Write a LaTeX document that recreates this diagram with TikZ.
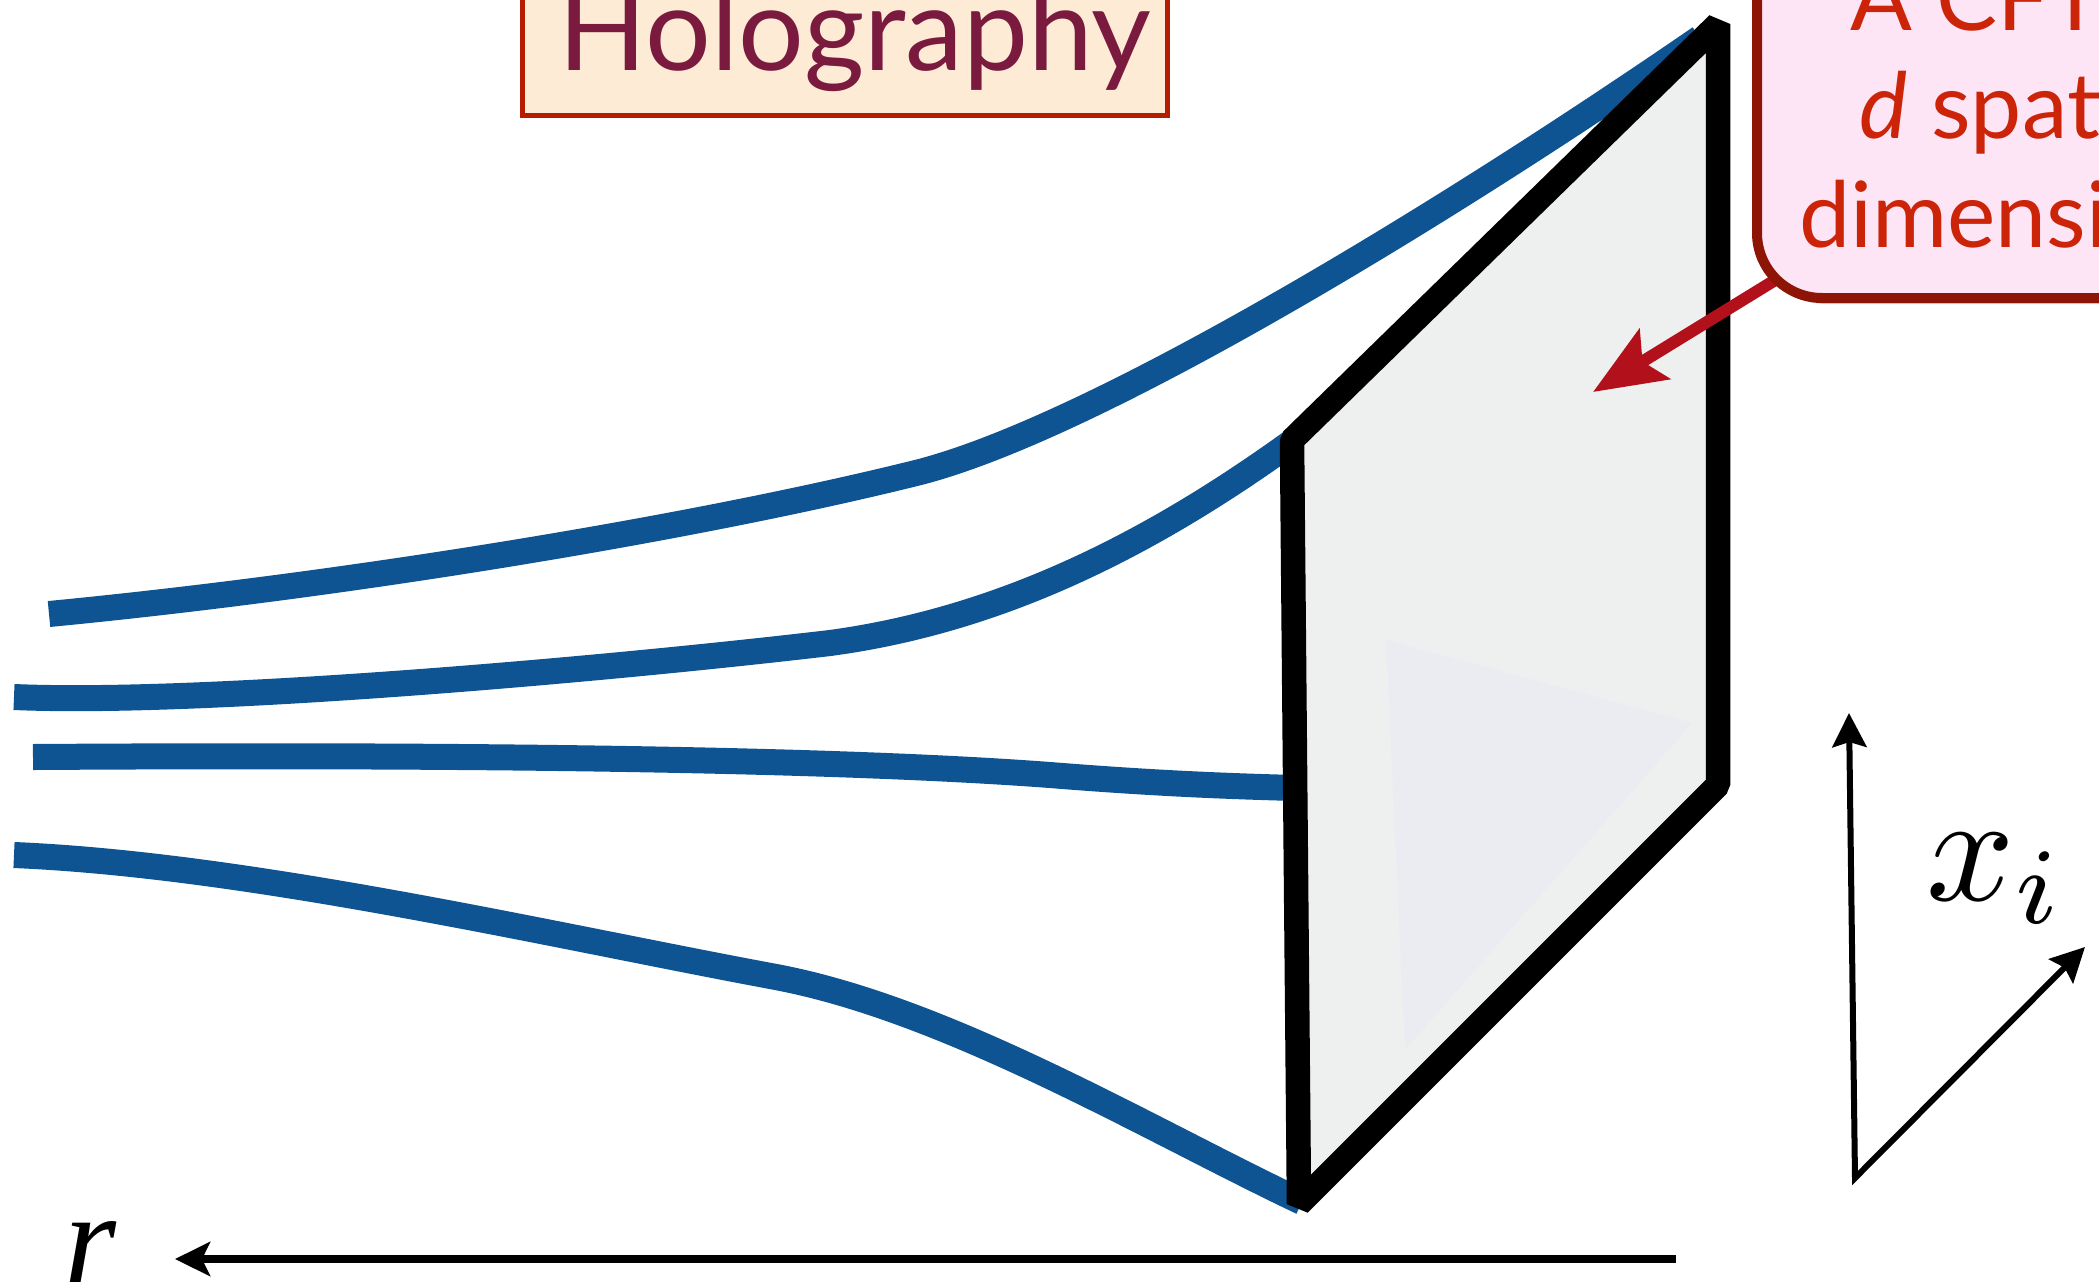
\documentclass[tikz,border=0pt]{standalone}
\usepackage{fontspec}
\setmainfont{Lato}
\newfontfamily\timesfont{Liberation Serif}
\usetikzlibrary{arrows.meta,shadows}
\definecolor{curveblue}{RGB}{14,84,146}
\definecolor{panelfill}{RGB}{238,240,239}
\definecolor{panelshade}{RGB}{234,236,242}
\definecolor{holofill}{RGB}{253,235,213}
\definecolor{holoborder}{RGB}{181,28,0}
\definecolor{holotext}{RGB}{122,26,62}
\definecolor{cftfill}{RGB}{253,229,246}
\definecolor{cftborder}{RGB}{142,20,6}
\definecolor{cfttext}{RGB}{204,36,8}
\definecolor{arrowred}{RGB}{178,16,26}
\begin{document}
\begin{tikzpicture}[x=0.01cm,y=-0.01cm,
  bluecurve/.style={draw=curveblue,line width=0.26cm,line cap=butt},
  frameline/.style={draw=black,line width=0.245cm,line join=bevel},
  cftlabel/.style={anchor=base,inner sep=0pt,text=cfttext,font=\fontsize{26}{30}\selectfont},
  axisline/.style={draw=black,line width=0.06cm,line join=miter}]
\path[use as bounding box] (0,0) rectangle (2099,1281);
\clip (0,0) rectangle (2099,1281);

% blue field lines
\draw[bluecurve] (49,614) .. controls (350,585) and (700,527) .. (920,472)
  .. controls (1100,425) and (1450,210) .. (1700,38);
\draw[bluecurve] (14,697) .. controls (200,705) and (600,670) .. (830,643)
  .. controls (1000,620) and (1150,545) .. (1296,439);
\draw[bluecurve] (33,757) .. controls (500,754) and (850,760) .. (1050,775)
  .. controls (1150,783) and (1220,786) .. (1296,788);
\draw[bluecurve] (14,855) .. controls (250,865) and (550,935) .. (776,977)
  .. controls (950,1010) and (1150,1130) .. (1302,1202);

% boundary panel
\coordinate (TL) at (1292,440);
\coordinate (TR) at (1718,24);
\coordinate (BR) at (1718,785);
\coordinate (BL) at (1299,1204);
\fill[panelfill] (TL) -- (TR) -- (BR) -- (BL) -- cycle;
\fill[panelshade] (1386,640) -- (1692,723) -- (1405,1050) -- cycle;
\draw[frameline] (TL) -- (TR) -- (BR) -- (BL) -- cycle;

% red arrow
\coordinate (arrowstart) at (1785,274);
\coordinate (arrowtip) at (1593,392);
\draw[arrowred,line width=0.12cm,-{Stealth[length=0.72cm,width=0.58cm,inset=0.14cm]}] (arrowstart) -- (arrowtip);

% CFT box
\draw[cftborder,fill=cftfill,line width=0.1cm,rounded corners=0.65cm,
  drop shadow={shadow xshift=0.04cm,shadow yshift=-0.06cm,opacity=0.3}] (1757,-120) rectangle (2450,298);
\node[cftlabel] (cftone) at (2025,30) {A CFT in};
\node[cftlabel] (cfttwo) at (2025,138) {\textit{d} spatial};
\node[cftlabel] (cftthree) at (2025,247) {dimensions};

% Holography box
\draw[holoborder,fill=holofill,line width=0.05cm] (522,-60) rectangle (1167,115);
\node[anchor=base,inner sep=0pt,text=holotext,font=\fontsize{33}{38}\selectfont] (holo) at (855,70) {Holography};

% r axis
\coordinate (rstart) at (1676,1259);
\coordinate (rend) at (175,1259);
\draw[line width=0.08cm,-{Stealth[length=0.35cm,width=0.34cm,inset=0.08cm]}] (rstart) -- (rend);
\node[anchor=base west,inner sep=0pt,font=\timesfont\itshape\fontsize{38}{40}\selectfont] (rlabel) at (64,1284) {r};

% x_i axes
\coordinate (origin) at (1855,1178);
\coordinate (xup) at (1849,713);
\coordinate (xdiag) at (2085,947);
\draw[axisline,{Stealth[length=0.34cm,width=0.34cm,inset=0.05cm]}-{Stealth[length=0.34cm,width=0.34cm,inset=0.05cm]}] (xup) -- (origin) -- (xdiag);
\node[anchor=base west,inner sep=0pt,scale=4.4] (xlabel) at (1923,900) {$x_i$};
\end{tikzpicture}
\end{document}
